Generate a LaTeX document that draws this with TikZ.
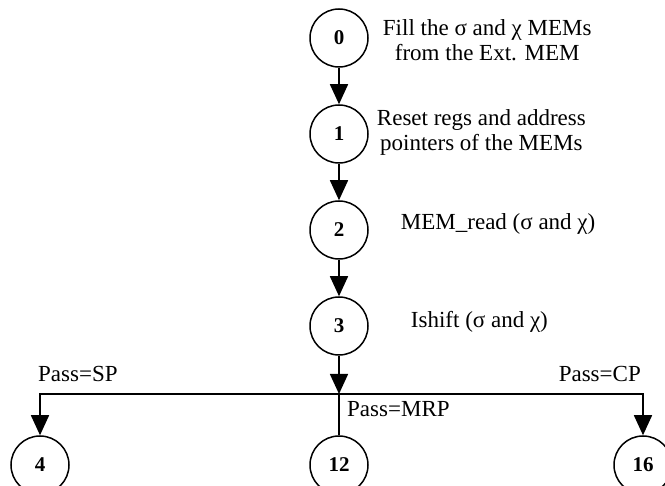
\documentclass[tikz,border=0pt]{standalone}
\usepackage{fontspec}
\setmainfont{Liberation Serif}
\usetikzlibrary{positioning,arrows.meta}

\tikzset{
  state/.style={draw, circle, line width=1.5pt, minimum size=58pt, inner sep=0pt,
    font=\fontsize{21}{24}\selectfont\bfseries},
  desc/.style={inner sep=0pt, align=center, font=\fontsize{23}{25}\selectfont},
  lbl/.style={inner sep=0pt, font=\fontsize{23}{25}\selectfont},
  flow/.style={line width=1.5pt, -{Triangle[length=20pt,width=18pt]}},
}

\begin{document}
\begin{tikzpicture}[x=1pt,y=-1pt]
  \useasboundingbox (0,0) rectangle (665,486);

% Nodes
  \node[state]  (s0)  at (339,38)  {0};
  \node[state]  (s1)  at (339,134) {1};
  \node[state]  (s2)  at (339,230) {2};
  \node[state]  (s3)  at (339,326) {3};
  \coordinate   (fork) at (339,394);
  \node[state]  (s4)  at (40,465)  {4};
  \node[state]  (s12) at (339,465) {12};
  \node[state]  (s16) at (643,465) {16};

% Labels
  \node[desc, right=14pt of s0, yshift=-2pt] (d0) {Fill the σ and χ MEMs\\from the Ext. MEM};
  \node[desc, right=8pt of s1, yshift=2pt]   (d1) {Reset regs and address\\pointers of the MEMs};
  \node[desc, right=32pt of s2, yshift=6pt]  (d2) {MEM\_read (σ and χ)};
  \node[desc, right=42pt of s3, yshift=4pt]  (d3) {Ishift (σ and χ)};
  \node[lbl, anchor=base west] (pSP)  at (38,382)  {Pass=SP};
  \node[lbl, anchor=base east] (pCP)  at (641,382) {Pass=CP};
  \node[lbl, anchor=base west] (pMRP) at (347,417) {Pass=MRP};

% Edges
  \draw[flow] (s0) -- (s1);
  \draw[flow] (s1) -- (s2);
  \draw[flow] (s2) -- (s3);
  \draw[flow] (s3) -- (fork);
  \draw[flow] (fork) -| (s4);
  \draw[flow] (fork) -| (s16);
  \draw[line width=1.5pt] (fork) -- (s12);

\end{tikzpicture}
\end{document}
